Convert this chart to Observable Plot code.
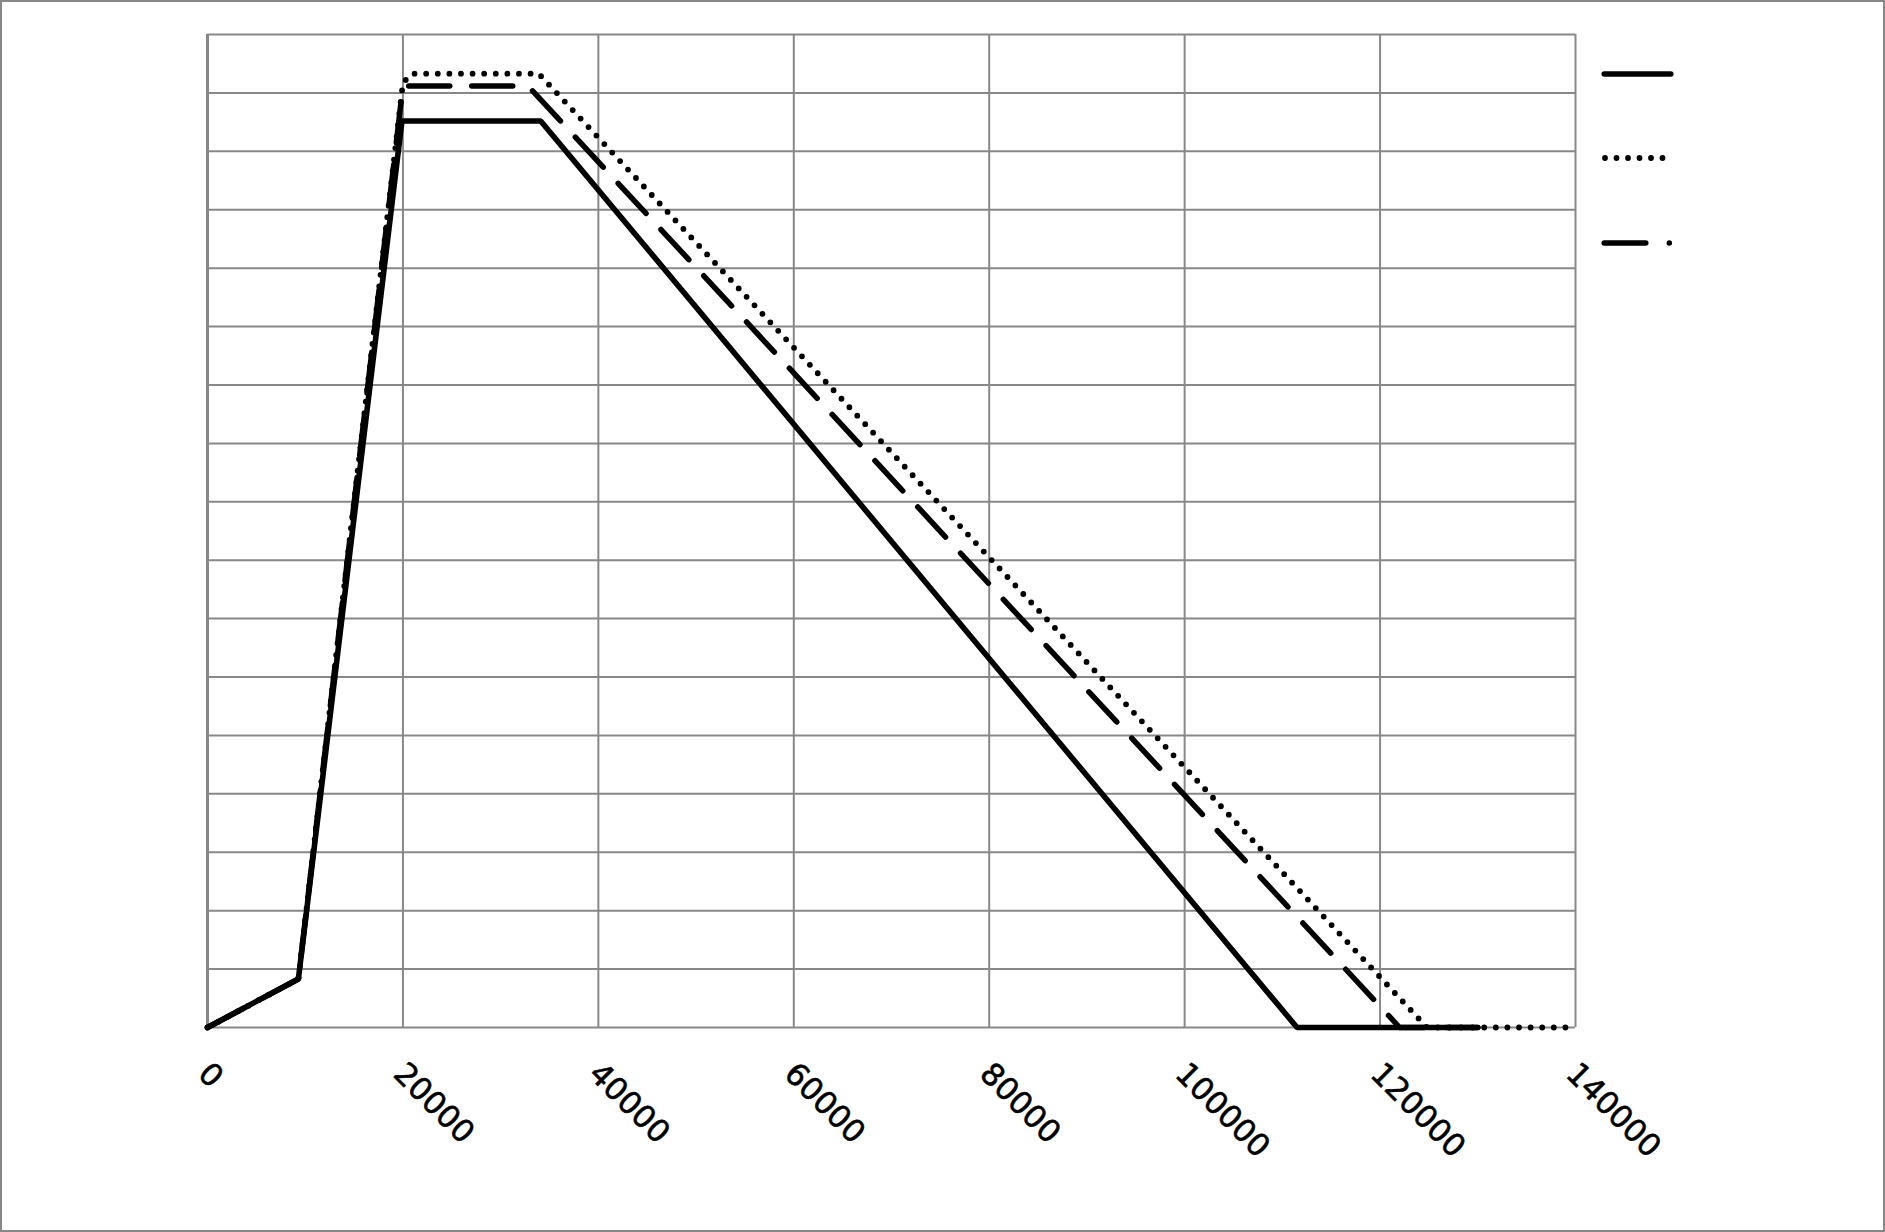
<!DOCTYPE html>
<html><head><meta charset="utf-8">
<script src="https://cdn.jsdelivr.net/npm/d3@7"></script>
<script src="https://cdn.jsdelivr.net/npm/@observablehq/plot@0.6"></script>
<style>
html,body{margin:0;padding:0;background:#fff;}
#wrap{position:relative;width:1885px;height:1232px;overflow:hidden;background:#fff;}
#border{position:absolute;left:0;top:0;width:1885px;height:1232px;box-sizing:border-box;border:2px solid #888;pointer-events:none;}
#legend{position:absolute;left:0;top:0;}
#chart svg{display:block;}
</style></head><body>
<div id="wrap">
<div id="chart"></div>
<svg id="legend" width="1885" height="1232" xmlns="http://www.w3.org/2000/svg">
  <line x1="1604.2" y1="74" x2="1670.8" y2="74" stroke="#000" stroke-width="5.5" stroke-linecap="round"/>
  <line x1="1605" y1="158" x2="1666" y2="158" stroke="#000" stroke-width="5.8" stroke-linecap="round" stroke-dasharray="0,11.5"/>
  <line x1="1604.2" y1="243" x2="1671" y2="243" stroke="#000" stroke-width="5.5" stroke-linecap="round" stroke-dasharray="41.6,23.5,0,100"/>
</svg>
<div id="border"></div>
</div>
<script>
// tick values
const xTicks = [0, 20000, 40000, 60000, 80000, 100000, 120000, 140000];
const yTicks = [0, 1, 2, 3, 4, 5, 6, 7, 8, 9, 10, 11, 12, 13, 14, 15, 16, 17];

// series 1 (solid)
const solidX = [0, 9300, 19900, 34100, 111500, 130000];
const solidY = [0, 0.83, 15.52, 15.52, 0, 0];
// series 2 (dotted)
const dottedX = [0, 9300, 20000, 20900, 33900, 124800, 140000];
const dottedY = [0, 0.83, 16.17, 16.33, 16.33, 0, 0];
// series 3 (dashed)
const dashedX = [0, 9300, 20000, 32800, 122000, 130000];
const dashedY = [0, 0.83, 16.12, 16.12, 0, 0];

const toRows = (xs, ys) => xs.map((x, i) => ({x, y: ys[i]}));
const solid = toRows(solidX, solidY);
const dotted = toRows(dottedX, dottedY);
const dashed = toRows(dashedX, dashedY);

const plot = Plot.plot({
  width: 1885,
  height: 1232,
  marginLeft: 207,
  marginRight: 310,
  marginTop: 34,
  marginBottom: 205,
  x: {domain: [0, 140000], axis: null},
  y: {domain: [0, 17], axis: null},
  style: {background: "transparent", fontFamily: "DejaVu Sans"},
  marks: [
    Plot.ruleY(yTicks, {stroke: "#888", strokeWidth: 2, strokeOpacity: 1}),
    Plot.ruleX(xTicks, {stroke: "#888", strokeWidth: 2, strokeOpacity: 1}),
    Plot.ruleX([0], {stroke: "#888", strokeWidth: 3, strokeOpacity: 1}),
    Plot.line(dashed, {x: "x", y: "y", stroke: "#000", strokeWidth: 5.5, strokeDasharray: "41,22", strokeLinecap: "round", strokeLinejoin: "round"}),
    Plot.line(dotted, {x: "x", y: "y", stroke: "#000", strokeWidth: 5.8, strokeDasharray: "0,11.6", strokeLinecap: "round", strokeLinejoin: "round"}),
    Plot.line(solid, {x: "x", y: "y", stroke: "#000", strokeWidth: 5.6, strokeLinejoin: "miter"}),
    Plot.text(xTicks, {
      x: d => d,
      frameAnchor: "bottom",
      text: d => String(d),
      rotate: 45,
      textAnchor: "start",
      lineAnchor: "bottom",
      fontSize: 31,
      fill: "#000",
      stroke: "#000",
      strokeWidth: 0.6,
      dx: -11,
      dy: 48
    })
  ]
});
document.getElementById("chart").appendChild(plot);
</script>
</body></html>
